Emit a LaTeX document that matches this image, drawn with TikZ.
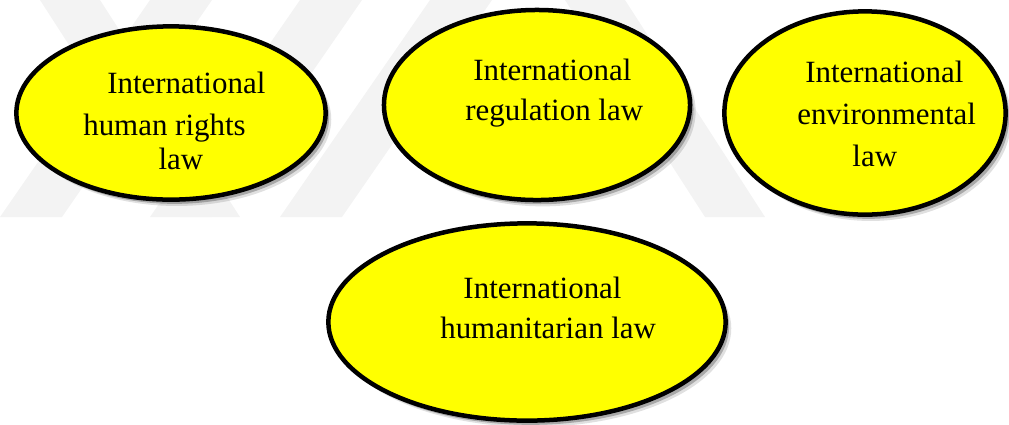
\documentclass[tikz,border=0pt]{standalone}
\usepackage{fontspec}
\setmainfont{Liberation Serif}
\usepackage{tikz}
\usetikzlibrary{shapes.geometric,shadows}

\definecolor{bubbleyellow}{RGB}{255,255,0}
\definecolor{bandgray}{RGB}{243,243,243}

\begin{document}
\begin{tikzpicture}[x=0.025cm,y=-0.025cm,
		bubble/.style={ellipse, draw=black, line width=3.2pt, fill=bubbleyellow, inner sep=0pt,
			drop shadow={shadow xshift=4pt, shadow yshift=-4.5pt, fill=black, opacity=0.12},
			drop shadow={shadow xshift=2.5pt, shadow yshift=-3pt, fill=black, opacity=0.25}},
		bubbletext/.style={anchor=north west, inner sep=0pt, align=left, font=\fontsize{22}{29.9}\selectfont},
		band/.style={fill=bandgray, draw=none}]
	
	\useasboundingbox (0,0) rectangle (1009,424);
	
	% Faint bands behind the top row
	\foreach \a in {150, 300, 430}
	\fill[band] (\a,0) -- ++(62,0) -- ++(-150,217) -- ++(-62,0) -- cycle;
	\foreach \a in {40, 565}
	\fill[band] (\a,0) -- ++(60,0) -- ++(140,217) -- ++(-60,0) -- cycle;
	
	% Human rights law
	\node[bubble, minimum width=7.73cm, minimum height=4.33cm] (hrlaw) at (171,113) {};
	\node[bubbletext] (hrlaw-txt) at (83,72) {\hspace*{0.6cm}International\\human rights\\[-0.22cm]\hspace*{1.88cm}law};
	
	% Regulation law
	\node[bubble, minimum width=7.65cm, minimum height=4.75cm] (reglaw) at (537,105) {};
	\node[bubbletext] (reglaw-txt) at (465,59) {\hspace*{0.2cm}International\\[-0.05cm]regulation law};
	
	% Environmental law
	\node[bubble, minimum width=7.03cm, minimum height=5.08cm] (envlaw) at (865,113) {};
	\node[bubbletext] (envlaw-txt) at (797,61) {\hspace*{0.2cm}International\\environmental\\\hspace*{1.38cm}law};
	
	% Humanitarian law
	\node[bubble, minimum width=9.93cm, minimum height=4.93cm] (humlaw) at (527,322) {};
	\node[bubbletext] (humlaw-txt) at (440,277) {\hspace*{0.58cm}International\\[-0.05cm]humanitarian law};
	
\end{tikzpicture}
\end{document}
